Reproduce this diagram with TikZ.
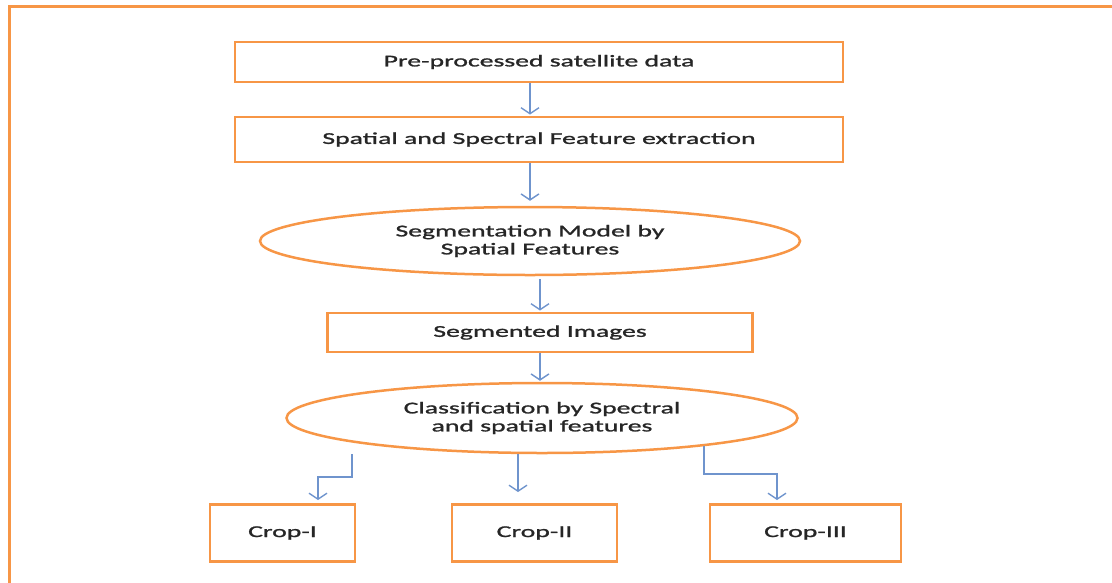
\documentclass[tikz,border=0pt]{standalone}
\usepackage{fontspec}
\setmainfont{Carlito}[FakeStretch=1.68,FakeBold=1.3]
\usetikzlibrary{arrows.meta,shapes.geometric}
\definecolor{frameor}{HTML}{F79646}
\definecolor{arrblue}{HTML}{6F94CD}
\begin{document}
\begin{tikzpicture}[x=1pt,y=-1pt,
  box/.style={draw=frameor,line width=2.9pt,fill=white,inner sep=0pt,
    font=\fontsize{16.5}{18}\selectfont,text=black!85},
  oval/.style={ellipse,draw=frameor,line width=2.5pt,fill=white,inner sep=0pt,
    align=center,font=\fontsize{16.5}{18}\selectfont,text=black!85},
  arr/.style={draw=arrblue,line width=1.4pt,
    -{Straight Barb[length=6pt,width=18pt,line width=1.4pt]}}]
\useasboundingbox (0,0) rectangle (1112,582);
\clip (0,0) rectangle (1112,582);
\draw[frameor,line width=3pt] (9,6) rectangle (1140,610);

\node[box,minimum width=608pt,minimum height=40pt] (b1) at (539,62) {Pre-processed satellite data};
\node[box,minimum width=608pt,minimum height=45pt] (b2) at (539,139.5) {Spatial and Spectral Feature extraction};
\node[oval,minimum width=540pt,minimum height=68pt] (e1) at (530,241) {Segmentation Model by\\Spatial Features};
\node[box,minimum width=425pt,minimum height=39pt] (b3) at (540,332.5) {Segmented Images};
\node[oval,minimum width=511pt,minimum height=70pt] (e2) at (542,418) {Classification by Spectral\\and spatial features};
\node[box,minimum width=145pt,minimum height=57pt] (c1) at (282.5,533) {Crop-I};
\node[box,minimum width=165pt,minimum height=57pt] (c2) at (534.5,533) {Crop-II};
\node[box,minimum width=191pt,minimum height=57pt] (c3) at (805.5,533) {Crop-III};

\draw[arr,shorten >=1pt] (530,0 |- b1.south) -- (530,0 |- b2.north);
\draw[arr,shorten >=5pt] (530,0 |- b2.south) -- (e1.north);
\draw[arr,shorten <=3pt,shorten >=1pt] (540,0 |- e1.south) -- (540,0 |- b3.north);
\draw[arr,shorten >=1pt] (540,0 |- b3.south) -- (540,0 |- e2.north);
\draw[arr,shorten >=11pt] (518,0 |- e2.south) -- (518,0 |- c2.north);
\coordinate (ls) at (352,454);
\draw[arr,shorten >=3pt] (ls) |- (318,477) -- (318,0 |- c1.north);
\coordinate (rs) at (704,446);
\draw[arr,shorten >=3pt] (rs) |- (777,474) -- (777,0 |- c3.north);
\end{tikzpicture}
\end{document}
